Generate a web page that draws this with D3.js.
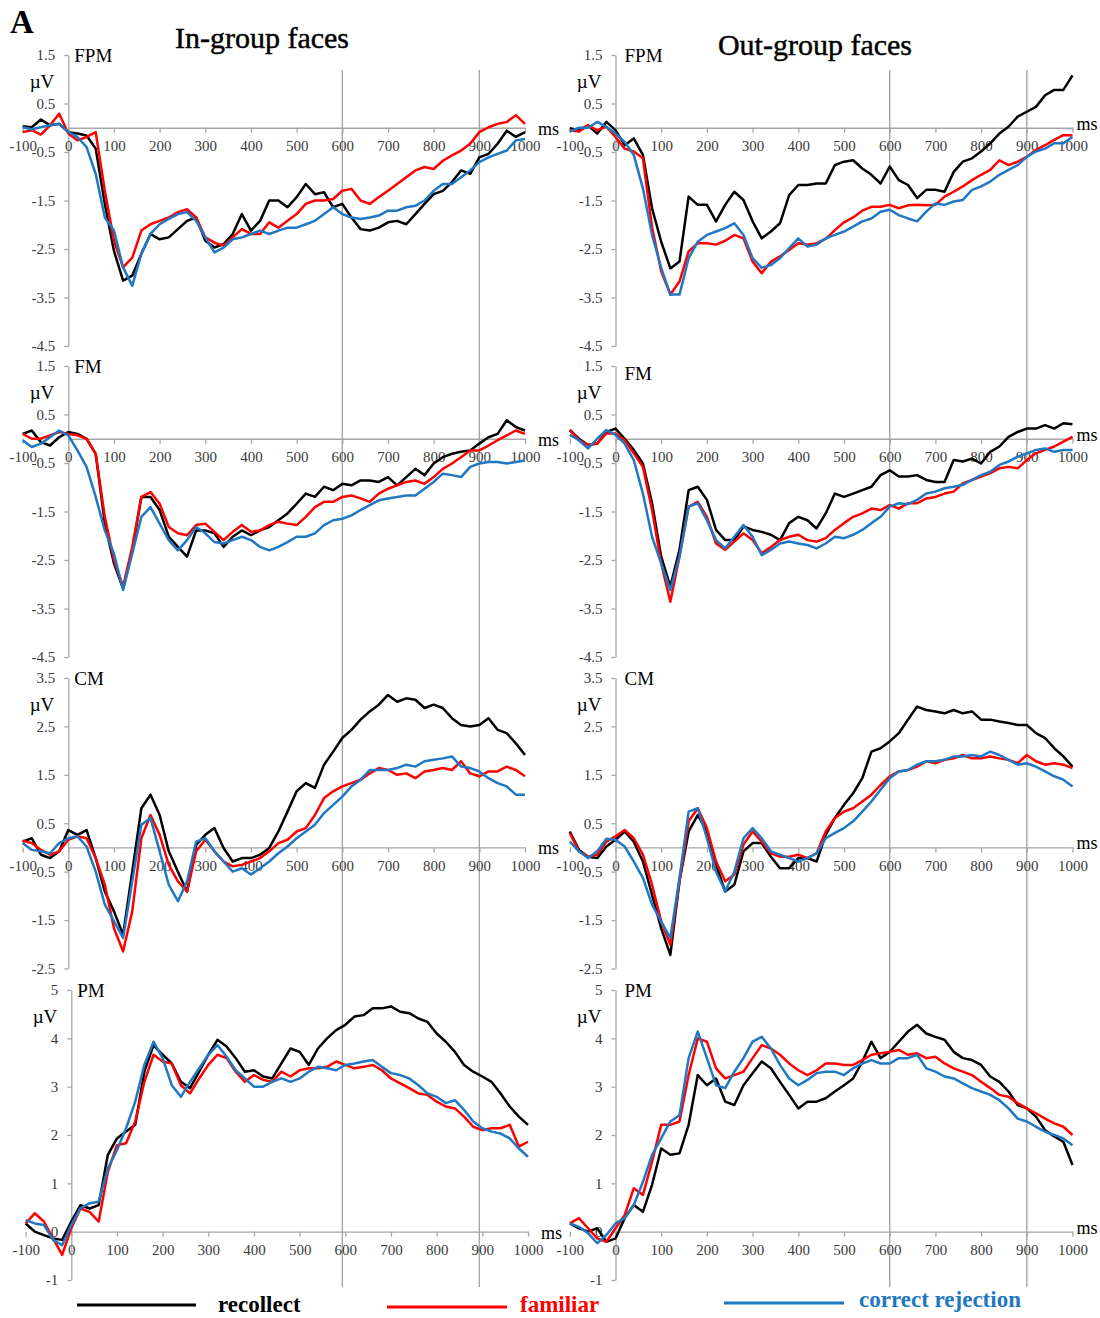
<!DOCTYPE html>
<html>
<head>
<meta charset="utf-8">
<script src="https://cdn.jsdelivr.net/npm/d3@7"></script>
<style>
  body { margin: 0; background: #fff; }
  svg { display: block; }
</style>
</head>
<body>
<svg id="chart" width="1100" height="1318"></svg>
<script>
// Sample times (ms) shared by every waveform
const times = [-100,-80,-60,-40,-20,0,20,40,60,80,100,120,140,160,180,200,220,240,260,280,
  300,320,340,360,380,400,420,440,460,480,500,520,540,560,580,600,620,640,660,680,
  700,720,740,760,780,800,820,840,860,880,900,920,940,960,980,1000];

const xTicks = [-100,0,100,200,300,400,500,600,700,800,900,1000];
const markerMs = [600, 900];

const yTicksFrontal = [1.5,0.5,-0.5,-1.5,-2.5,-3.5,-4.5];
const yTicksCentral = [3.5,2.5,1.5,0.5,-0.5,-1.5,-2.5];
const yTicksParietal = [5,4,3,2,1,0,-1];

const seriesNames = ["recollect", "familiar", "correct rejection"];
const seriesColors = ["#000000", "#ff0000", "#1f78c1"];

// ---- In-group faces (µV) ----
const inFpmRec = [0.03,0.01,0.17,0.05,0.08,-0.09,-0.12,-0.16,-0.43,-1.57,-2.54,-3.15,-3.05,-2.6,-2.19,-2.3,-2.26,-2.09,-1.92,-1.85,
  -2.33,-2.47,-2.4,-2.19,-1.78,-2.12,-1.92,-1.5,-1.5,-1.64,-1.43,-1.16,-1.37,-1.33,-1.64,-1.57,-1.85,-2.09,-2.12,-2.06,
  -1.95,-1.92,-1.99,-1.78,-1.57,-1.37,-1.3,-1.12,-0.88,-0.95,-0.61,-0.54,-0.33,-0.06,-0.19,-0.09];
const inFpmFam = [-0.09,-0.05,-0.14,0.05,0.29,-0.12,-0.26,-0.19,-0.09,-1.3,-2.33,-2.88,-2.68,-2.12,-1.99,-1.92,-1.85,-1.74,-1.68,-1.85,
  -2.26,-2.37,-2.43,-2.26,-2.09,-2.19,-2.19,-1.95,-2.06,-1.92,-1.78,-1.57,-1.5,-1.5,-1.47,-1.3,-1.26,-1.5,-1.57,-1.43,
  -1.3,-1.16,-1.02,-0.88,-0.81,-0.85,-0.68,-0.57,-0.47,-0.33,-0.09,0.01,0.08,0.12,0.26,0.08];
const inFpmCr = [0.01,-0.03,0.01,0.05,0.08,-0.09,-0.19,-0.4,-0.95,-1.85,-2.12,-2.88,-3.26,-2.6,-2.19,-1.99,-1.88,-1.78,-1.74,-1.92,
  -2.26,-2.57,-2.47,-2.3,-2.26,-2.19,-2.12,-2.19,-2.12,-2.06,-2.06,-1.99,-1.92,-1.78,-1.64,-1.78,-1.85,-1.88,-1.85,-1.81,
  -1.71,-1.71,-1.64,-1.61,-1.5,-1.3,-1.16,-1.16,-1.02,-0.88,-0.71,-0.61,-0.54,-0.47,-0.26,-0.23];

const inFmRec = [0.1,0.17,-0.07,-0.14,0.03,0.14,0.1,0,-0.31,-1.75,-2.57,-3.09,-2.3,-1.2,-1.2,-1.47,-2.02,-2.23,-2.43,-1.89,
  -1.89,-1.95,-2.23,-2.02,-1.89,-1.99,-1.89,-1.82,-1.68,-1.54,-1.34,-1.13,-1.2,-0.99,-1.06,-0.93,-0.96,-0.86,-0.86,-0.89,
  -0.79,-0.96,-0.79,-0.62,-0.75,-0.51,-0.38,-0.31,-0.27,-0.24,-0.1,0.03,0.1,0.38,0.24,0.17];
const inFmFam = [0.1,0,0,0.07,0.14,0.1,0.07,0,-0.31,-1.61,-2.5,-3.05,-2.23,-1.2,-1.1,-1.34,-1.82,-1.95,-1.99,-1.78,
  -1.75,-1.92,-2.09,-1.92,-1.78,-1.92,-1.89,-1.78,-1.71,-1.75,-1.78,-1.61,-1.41,-1.3,-1.3,-1.2,-1.17,-1.23,-1.3,-1.13,
  -1.03,-0.96,-0.89,-0.86,-0.93,-0.79,-0.62,-0.51,-0.38,-0.24,-0.24,-0.14,-0.03,0.07,0.17,0.1];
const inFmCr = [-0.03,-0.17,-0.1,0.03,0.17,0.07,-0.24,-0.58,-1.2,-1.89,-2.37,-3.12,-2.37,-1.61,-1.41,-1.75,-2.09,-2.3,-2.09,-1.82,
  -1.95,-2.13,-2.16,-2.09,-2.02,-2.09,-2.23,-2.3,-2.23,-2.13,-2.02,-2.02,-1.95,-1.78,-1.68,-1.65,-1.58,-1.47,-1.37,-1.27,
  -1.23,-1.2,-1.17,-1.17,-1.03,-0.89,-0.72,-0.75,-0.79,-0.58,-0.51,-0.48,-0.48,-0.51,-0.48,-0.45];

const inCmRec = [0.12,0.19,-0.15,-0.22,-0.08,0.36,0.26,0.36,-0.22,-0.91,-1.32,-1.8,-0.5,0.81,1.09,0.67,-0.08,-0.5,-0.91,0.05,
  0.26,0.4,-0.01,-0.29,-0.22,-0.22,-0.15,-0.01,0.33,0.74,1.16,1.33,1.23,1.71,1.98,2.26,2.43,2.64,2.81,2.95,
  3.15,3.01,3.08,3.05,2.88,2.95,2.88,2.67,2.53,2.5,2.53,2.67,2.43,2.36,2.15,1.91];
const inCmFam = [0.14,0.09,-0.05,-0.15,-0.08,0.16,0.23,0.19,-0.22,-0.77,-1.67,-2.15,-1.32,0.19,0.67,0.26,-0.36,-0.7,-0.91,-0.08,
  0.16,-0.08,-0.29,-0.39,-0.36,-0.29,-0.22,-0.08,0.09,0.16,0.33,0.4,0.67,1.02,1.16,1.26,1.33,1.4,1.53,1.64,
  1.6,1.5,1.53,1.43,1.57,1.6,1.64,1.6,1.78,1.53,1.47,1.57,1.57,1.67,1.6,1.47];
const inCmCr = [0.09,-0.05,-0.08,-0.12,0.09,0.19,0.23,0.02,-0.5,-1.18,-1.52,-1.87,-0.7,0.47,0.61,-0.08,-0.77,-1.11,-0.7,0.12,
  0.19,-0.08,-0.29,-0.5,-0.43,-0.56,-0.43,-0.29,-0.12,0.02,0.19,0.33,0.47,0.71,0.88,1.05,1.26,1.4,1.6,1.6,
  1.6,1.64,1.71,1.67,1.78,1.81,1.84,1.88,1.67,1.64,1.57,1.43,1.33,1.26,1.09,1.09];

const inPmRec = [0.17,0,-0.07,-0.14,-0.17,0.21,0.55,0.48,0.55,1.59,1.93,2.07,2.21,3.31,3.86,3.66,3.48,3.1,2.97,3.31,
  3.66,3.97,3.83,3.59,3.31,3.34,3.21,3.17,3.48,3.79,3.72,3.45,3.79,4.0,4.17,4.28,4.45,4.48,4.62,4.62,
  4.66,4.55,4.52,4.41,4.34,4.1,3.93,3.72,3.45,3.31,3.21,3.1,2.86,2.59,2.38,2.21];
const inPmFam = [0.17,0.38,0.21,-0.14,-0.48,0.07,0.48,0.41,0.21,1.24,1.79,1.83,2.28,3.1,3.66,3.52,3.48,3.03,2.86,3.17,
  3.45,3.66,3.59,3.31,3.1,3.24,3.14,3.1,3.31,3.21,3.34,3.38,3.38,3.41,3.52,3.45,3.38,3.41,3.45,3.34,
  3.17,3.07,2.97,2.86,2.83,2.69,2.59,2.55,2.38,2.17,2.1,2.14,2.14,2.21,1.76,1.86];
const inPmCr = [0.24,0.17,0.14,-0.17,-0.28,0.14,0.48,0.59,0.62,1.31,1.69,2.14,2.69,3.45,3.93,3.59,3.03,2.79,3.1,3.38,
  3.66,3.86,3.62,3.34,3.17,3.0,3.0,3.1,3.17,3.1,3.17,3.31,3.41,3.38,3.34,3.45,3.48,3.52,3.55,3.41,
  3.28,3.24,3.17,3.03,2.86,2.79,2.66,2.72,2.52,2.28,2.14,2.07,2.03,1.93,1.72,1.55];

// ---- Out-group faces (µV) ----
const outFpmRec = [-0.01,-0.05,0.05,-0.12,0.12,-0.05,-0.36,-0.22,-0.56,-1.66,-2.35,-2.9,-2.76,-1.42,-1.59,-1.59,-1.93,-1.59,-1.32,-1.49,
  -1.93,-2.28,-2.14,-1.97,-1.39,-1.18,-1.18,-1.15,-1.15,-0.77,-0.7,-0.67,-0.84,-0.97,-1.15,-0.8,-1.08,-1.18,-1.45,-1.28,
  -1.28,-1.32,-0.91,-0.7,-0.63,-0.49,-0.32,-0.12,0.02,0.23,0.33,0.43,0.67,0.78,0.78,1.08];
const outFpmFam = [-0.05,-0.08,0.05,-0.05,0.02,-0.19,-0.43,-0.49,-0.63,-2.05,-2.96,-3.44,-3.17,-2.55,-2.38,-2.38,-2.41,-2.33,-2.21,-2.28,
  -2.76,-3.0,-2.76,-2.65,-2.52,-2.38,-2.41,-2.38,-2.29,-2.11,-1.95,-1.85,-1.71,-1.63,-1.63,-1.59,-1.66,-1.6,-1.59,-1.6,
  -1.59,-1.42,-1.32,-1.21,-1.08,-0.97,-0.87,-0.67,-0.77,-0.7,-0.6,-0.46,-0.36,-0.25,-0.15,-0.16];
const outFpmCr = [-0.08,0,0,0.12,0.02,-0.12,-0.29,-0.56,-1.25,-2.21,-2.89,-3.44,-3.44,-2.69,-2.35,-2.21,-2.14,-2.07,-1.97,-2.21,
  -2.69,-2.89,-2.83,-2.69,-2.48,-2.28,-2.45,-2.41,-2.28,-2.21,-2.14,-2.04,-1.93,-1.87,-1.73,-1.69,-1.8,-1.87,-1.93,-1.73,
  -1.56,-1.59,-1.52,-1.49,-1.28,-1.21,-1.11,-0.97,-0.87,-0.77,-0.6,-0.49,-0.43,-0.32,-0.32,-0.19];

const outFmRec = [0.18,0,-0.13,-0.1,0.14,0.21,0,-0.23,-0.51,-1.33,-2.43,-3.05,-2.29,-1.06,-0.99,-1.26,-1.88,-2.09,-2.09,-1.81,
  -1.88,-1.92,-1.98,-2.09,-1.74,-1.61,-1.68,-1.85,-1.54,-1.13,-1.2,-1.13,-1.06,-0.99,-0.75,-0.65,-0.78,-0.78,-0.75,-0.85,
  -0.89,-0.89,-0.44,-0.47,-0.41,-0.51,-0.27,-0.16,0.04,0.14,0.21,0.21,0.28,0.21,0.32,0.3];
const outFmFam = [0.18,-0.03,-0.13,-0.1,0.11,0.11,-0.03,-0.3,-0.58,-1.47,-2.57,-3.36,-2.43,-1.4,-1.3,-1.61,-2.16,-2.29,-2.12,-1.95,
  -2.09,-2.36,-2.23,-2.09,-2.02,-1.98,-2.09,-2.12,-2.05,-1.88,-1.74,-1.61,-1.54,-1.44,-1.47,-1.37,-1.44,-1.33,-1.33,-1.23,
  -1.2,-1.13,-1.09,-0.92,-0.85,-0.78,-0.71,-0.61,-0.58,-0.61,-0.44,-0.3,-0.23,-0.16,-0.06,0.04];
const outFmCr = [0.08,-0.03,-0.2,0,0.18,0.08,-0.1,-0.44,-1.13,-2.02,-2.57,-3.12,-2.43,-1.4,-1.33,-1.68,-2.09,-2.26,-2.02,-1.78,
  -2.02,-2.4,-2.29,-2.16,-2.12,-2.16,-2.19,-2.26,-2.16,-2.02,-2.05,-1.98,-1.88,-1.74,-1.61,-1.4,-1.33,-1.35,-1.26,-1.13,
  -1.09,-1.02,-0.99,-0.95,-0.85,-0.75,-0.68,-0.54,-0.47,-0.37,-0.3,-0.23,-0.2,-0.27,-0.23,-0.23];

const outCmRec = [0.33,-0.05,-0.19,-0.22,0.02,0.16,0.33,0.12,-0.29,-0.98,-1.67,-2.22,-0.7,0.33,0.67,0.33,-0.36,-0.91,-0.77,-0.08,
  0.09,0.09,-0.19,-0.43,-0.43,-0.22,-0.22,-0.29,0.26,0.61,0.88,1.12,1.43,1.98,2.05,2.19,2.36,2.64,2.91,2.84,
  2.81,2.77,2.84,2.77,2.81,2.64,2.64,2.6,2.57,2.53,2.53,2.36,2.26,2.05,1.88,1.67];
const outCmFam = [0.3,-0.08,-0.19,-0.15,0.12,0.23,0.36,0.19,-0.15,-0.77,-1.53,-2.01,-0.7,0.54,0.81,0.4,-0.29,-0.7,-0.56,0.06,
  0.33,0.12,-0.12,-0.19,-0.19,-0.15,-0.22,-0.12,0.33,0.61,0.74,0.81,0.95,1.09,1.29,1.47,1.57,1.6,1.67,1.78,
  1.74,1.81,1.84,1.91,1.84,1.84,1.88,1.84,1.81,1.74,1.91,1.78,1.71,1.74,1.71,1.64];
const outCmCr = [0.12,-0.08,-0.22,-0.08,0.18,0.16,0.02,-0.29,-0.63,-1.18,-1.53,-1.87,-0.63,0.74,0.81,0.19,-0.5,-0.91,-0.5,0.19,
  0.4,0.19,-0.08,-0.15,-0.22,-0.29,-0.22,-0.12,0.19,0.3,0.4,0.54,0.74,0.95,1.19,1.43,1.57,1.6,1.71,1.78,
  1.78,1.81,1.88,1.88,1.91,1.88,1.98,1.91,1.81,1.71,1.74,1.67,1.57,1.47,1.4,1.26];

const outPmRec = [0.17,0.07,0,0.07,-0.21,-0.14,0.28,0.55,0.41,0.97,1.72,1.59,1.62,2.21,3.24,3.03,3.17,2.69,2.62,3.03,
  3.28,3.52,3.38,3.1,2.83,2.55,2.69,2.69,2.76,2.9,3.03,3.17,3.52,3.93,3.59,3.72,3.93,4.14,4.28,4.1,
  4.03,3.97,3.72,3.59,3.55,3.45,3.21,3.1,2.9,2.62,2.55,2.38,2.1,1.97,1.86,1.38];
const outPmFam = [0.17,0.28,0.07,-0.14,-0.21,0.07,0.34,0.9,0.76,1.45,2.21,2.21,2.28,3.24,4.0,3.93,3.38,3.17,3.24,3.31,
  3.59,3.86,3.79,3.66,3.48,3.34,3.24,3.34,3.48,3.48,3.45,3.45,3.55,3.66,3.69,3.72,3.76,3.66,3.69,3.59,
  3.62,3.48,3.38,3.31,3.24,3.1,2.97,2.83,2.79,2.66,2.55,2.45,2.34,2.24,2.17,2.0];
const outPmCr = [0.17,0.1,-0.03,-0.24,-0.07,0.17,0.28,0.55,1.03,1.59,1.93,2.28,2.41,3.59,4.14,3.59,3.03,2.97,3.31,3.59,
  3.93,4.03,3.79,3.45,3.17,3.03,3.14,3.28,3.31,3.31,3.24,3.38,3.48,3.55,3.48,3.48,3.59,3.59,3.66,3.38,
  3.31,3.21,3.17,3.07,2.97,2.9,2.83,2.72,2.55,2.34,2.28,2.17,2.07,2.0,1.93,1.79];

// ---- Layout ----
const columns = [
  { title: "In-group faces", titleX: 262, titleY: 48, x0: 68.3, x1000: 525, msDx: 13, msDy: 7 },
  { title: "Out-group faces", titleX: 815, titleY: 55, x0: 615.5, x1000: 1072.5, msDx: 4, msDy: 2 }
];
const rows = [
  { label: "FPM", ticks: yTicksFrontal, top: 55, bottom: 346 },
  { label: "FM", ticks: yTicksFrontal, top: 366, bottom: 657 },
  { label: "CM", ticks: yTicksCentral, top: 678, bottom: 968.5 },
  { label: "PM", ticks: yTicksParietal, top: 990, bottom: 1280 }
];
const panels = [
  { col: 0, row: 0, data: [inFpmRec, inFpmFam, inFpmCr] },
  { col: 1, row: 0, data: [outFpmRec, outFpmFam, outFpmCr] },
  { col: 0, row: 1, data: [inFmRec, inFmFam, inFmCr] },
  { col: 1, row: 1, data: [outFmRec, outFmFam, outFmCr], labelDy: 7 },
  { col: 0, row: 2, data: [inCmRec, inCmFam, inCmCr] },
  { col: 1, row: 2, data: [outCmRec, outCmFam, outCmCr] },
  { col: 0, row: 3, data: [inPmRec, inPmFam, inPmCr], shiftX: 3 },
  { col: 1, row: 3, data: [outPmRec, outPmFam, outPmCr] }
];

const FONT = "'Liberation Serif', 'Times New Roman', serif";
const AXIS_GREY = "#a6a6a6";
const svg = d3.select("#chart").style("font-family", FONT);

// panel letter
svg.append("text").attr("x", 10).attr("y", 33)
  .attr("font-size", 33).attr("font-weight", "bold").text("A");

// column titles
columns.forEach(c => {
  svg.append("text").attr("x", c.titleX).attr("y", c.titleY)
    .attr("text-anchor", "middle").attr("font-size", 30)
    .attr("stroke", "#000").attr("stroke-width", 0.45)
    .text(c.title);
});

// vertical reference lines spanning all rows
columns.forEach(c => {
  const x = d3.scaleLinear().domain([0, 1000]).range([c.x0, c.x1000]);
  markerMs.forEach(ms => {
    svg.append("line")
      .attr("x1", x(ms)).attr("x2", x(ms))
      .attr("y1", 70).attr("y2", 1287)
      .attr("stroke", AXIS_GREY).attr("stroke-width", 1.4);
  });
});

panels.forEach(p => {
  const c = columns[p.col];
  const r = rows[p.row];
  const sx = p.shiftX || 0;
  const x = d3.scaleLinear().domain([0, 1000]).range([c.x0 + sx, c.x1000 + sx]);
  const yDom = [r.ticks[r.ticks.length - 1], r.ticks[0]];
  const y = d3.scaleLinear().domain(yDom).range([r.bottom, r.top]);
  const g = svg.append("g");

  // y axis
  const yAxis = g.append("g")
    .attr("transform", `translate(${x(0)},0)`)
    .call(d3.axisLeft(y).tickValues(r.ticks).tickSize(4).tickSizeOuter(0).tickPadding(9)
      .tickFormat(d => String(d)));
  yAxis.select(".domain").attr("stroke", AXIS_GREY).attr("stroke-width", 1.3);
  yAxis.selectAll(".tick line").attr("stroke", AXIS_GREY).attr("stroke-width", 1.3);
  yAxis.selectAll(".tick text").attr("font-family", FONT).attr("font-size", 15).attr("fill", "#3a3a3a");

  // x axis through zero
  const xAxis = g.append("g")
    .attr("transform", `translate(0,${y(0)})`)
    .call(d3.axisBottom(x).tickValues(xTicks).tickSize(5).tickSizeOuter(0).tickPadding(8)
      .tickFormat(d => String(d)));
  xAxis.select(".domain").attr("stroke", AXIS_GREY).attr("stroke-width", 1.3);
  xAxis.selectAll(".tick line").attr("stroke", AXIS_GREY).attr("stroke-width", 1.3);
  xAxis.selectAll(".tick text").attr("font-family", FONT).attr("font-size", 15).attr("fill", "#3a3a3a");

  // unit labels
  g.append("text").attr("x", x(1000) + c.msDx).attr("y", y(0) + c.msDy)
    .attr("font-size", 18).text("ms");
  g.append("text").attr("x", x(0) - 14).attr("y", r.top + 33)
    .attr("text-anchor", "end").attr("font-size", 19).text("\u00b5V");
  g.append("text").attr("x", x(0) + (p.col === 0 ? 6 : 9)).attr("y", r.top + 7 + (p.labelDy || 0))
    .attr("font-size", 19).text(r.label);

  // waveforms
  const line = d3.line()
    .x((d, i) => x(times[i]))
    .y(d => y(d));
  p.data.forEach((vals, k) => {
    g.append("path")
      .datum(vals)
      .attr("d", line)
      .attr("fill", "none")
      .attr("stroke", seriesColors[k])
      .attr("stroke-width", 2.5)
      .attr("stroke-linejoin", "round");
  });
});

// legend
const legend = [
  { x1: 77, x2: 196, y: 1305, tx: 218, ty: 1312 },
  { x1: 387, x2: 507, y: 1307, tx: 520, ty: 1312 },
  { x1: 724, x2: 844, y: 1303, tx: 859, ty: 1307 }
];
legend.forEach((l, k) => {
  svg.append("line").attr("x1", l.x1).attr("x2", l.x2).attr("y1", l.y).attr("y2", l.y)
    .attr("stroke", seriesColors[k]).attr("stroke-width", 3);
  svg.append("text").attr("x", l.tx).attr("y", l.ty)
    .attr("font-size", 23).attr("font-weight", "bold")
    .attr("fill", seriesColors[k]).text(seriesNames[k]);
});
</script>
</body>
</html>
